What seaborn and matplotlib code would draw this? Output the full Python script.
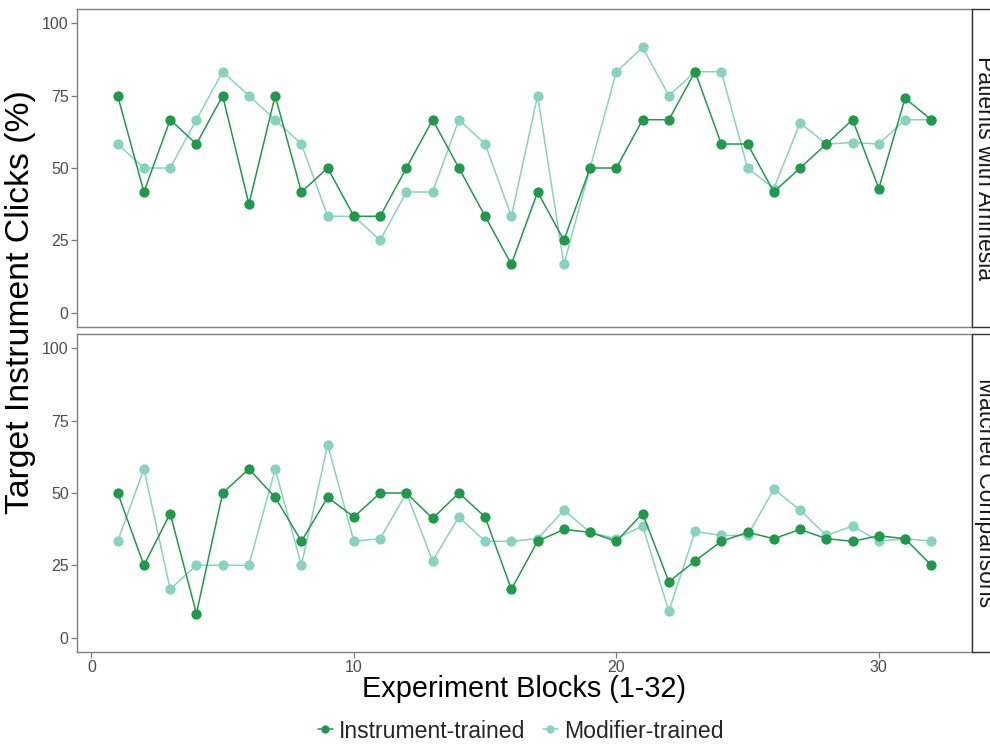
import matplotlib
matplotlib.use("Agg")
import matplotlib.pyplot as plt
from matplotlib.lines import Line2D
from matplotlib.patches import Rectangle
import seaborn as sns
import pandas as pd

blocks = list(range(1, 33))

# Patients with amnesia
amnesia_instrument = [75, 41.7, 66.7, 58.3, 75, 37.5, 75, 41.7, 50, 33.3, 33.3, 50,
                      66.7, 50, 33.3, 16.7, 41.7, 25, 50, 50, 66.7, 66.7, 83.3, 58.3,
                      58.3, 41.7, 50, 58.3, 66.7, 42.9, 74.1, 66.7]
amnesia_modifier = [58.3, 50, 50, 66.7, 83.3, 75, 66.7, 58.3, 33.3, 33.3, 25, 41.7,
                    41.7, 66.7, 58.3, 33.3, 75, 16.7, 50, 83.3, 91.7, 75, 83.3, 83.3,
                    50, 42.9, 65.6, 58.3, 58.8, 58.3, 66.7, 66.7]

# Matched comparisons
matched_instrument = [50, 25, 42.9, 8.3, 50, 58.3, 48.5, 33.3, 48.5, 41.7, 50, 50,
                      41.2, 50, 41.7, 16.7, 33.3, 37.4, 36.4, 33.3, 42.9, 19.3, 26.5, 33.3,
                      36.4, 34.2, 37.4, 34.2, 33.3, 35.2, 34.2, 25]
matched_modifier = [33.3, 58.3, 16.7, 25, 25, 25, 58.3, 25, 66.7, 33.3, 34.2, 50,
                    26.5, 41.7, 33.3, 33.3, 34.2, 44.1, 36.4, 34.2, 38.6, 9.1, 36.7, 35.3,
                    35.3, 51.3, 44.1, 35.3, 38.6, 33.3, 34.2, 33.3]

panels = ["Patients with Amnesia", "Matched Comparisons"]
groups = ["Instrument-trained", "Modifier-trained"]
palette = {"Instrument-trained": "#1f9a4b", "Modifier-trained": "#88d3bd"}

frames = []
for panel, inst, mod in [(panels[0], amnesia_instrument, amnesia_modifier),
                         (panels[1], matched_instrument, matched_modifier)]:
    frames.append(pd.DataFrame({"block": blocks, "pct": inst, "group": groups[0], "panel": panel}))
    frames.append(pd.DataFrame({"block": blocks, "pct": mod, "group": groups[1], "panel": panel}))
df = pd.concat(frames, ignore_index=True)

sns.set_theme(style="white")
plt.rcParams["font.family"] = ["Liberation Sans", "DejaVu Sans"]

W, H = 990, 744
fig = plt.figure(figsize=(W / 100, H / 100), dpi=100)

left, right = 77 / W, 972 / W
ax_top = fig.add_axes([left, 1 - 327 / H, right - left, 318 / H])
ax_bot = fig.add_axes([left, 1 - 652 / H, right - left, 318 / H])

border = "#7f7f7f"
tick_col = "#4d4d4d"
for ax, panel in [(ax_top, panels[0]), (ax_bot, panels[1])]:
    sub = df[df["panel"] == panel]
    # modifier series first so instrument points sit on top
    sns.lineplot(data=sub, x="block", y="pct", hue="group",
                 hue_order=[groups[1], groups[0]], palette=palette,
                 marker="o", markersize=7.4, markeredgewidth=0, linewidth=1.1,
                 legend=False, ax=ax, zorder=3)
    ax.set_xlim(-0.55, 33.55)
    ax.set_ylim(-5, 105)
    ax.set_yticks([0, 25, 50, 75, 100])
    ax.set_xticks([0, 10, 20, 30])
    ax.set_xlabel("")
    ax.set_ylabel("")
    ax.grid(False)
    for s in ax.spines.values():
        s.set_color(border)
        s.set_linewidth(1.0)
    ax.tick_params(axis="both", which="both", direction="out", length=4, width=0.9,
                   color=border, labelcolor=tick_col, labelsize=11.5, pad=2,
                   left=True, bottom=True)
    # strip on the right side
    bb = ax.get_position()
    fig.patches.append(Rectangle((bb.x1, bb.y0), 0.05, bb.height, transform=fig.transFigure,
                                 facecolor="white", edgecolor="#333333", linewidth=1.0,
                                 zorder=0))
    fig.text(985 / W, (bb.y0 + bb.y1) / 2, panel, rotation=-90, ha="center", va="center",
             fontsize=16.5, color="#1a1a1a")

ax_top.tick_params(axis="x", bottom=False, labelbottom=False)

fig.text(21 / W, 1 - 302 / H, "Target Instrument Clicks (%)",
         rotation=90, ha="center", va="center", fontsize=24.3, color="black")
fig.text((left + right) / 2, 1 - 689 / H, "Experiment Blocks (1-32)", ha="center", va="center",
         fontsize=20.8, color="black")

handles = [Line2D([], [], color=palette[g], marker="o", markersize=6, markeredgewidth=0,
                  linewidth=1.1) for g in groups]
fig.legend(handles, groups, loc="center", bbox_to_anchor=(520.5 / W, 1 - 731 / H), ncol=2,
           frameon=False, fontsize=16.6, handlelength=0.65, handletextpad=0.26,
           columnspacing=0.78, borderpad=0)

fig.savefig("out.png", dpi=100)
